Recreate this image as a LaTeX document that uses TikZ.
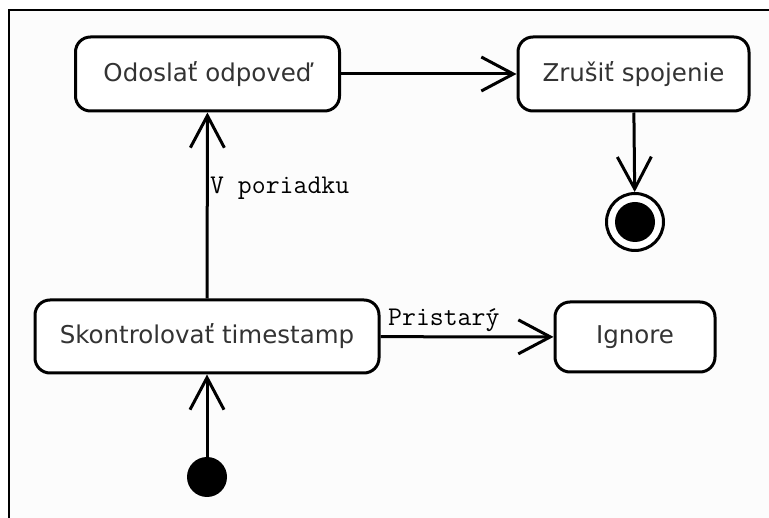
\documentclass[tikz,border=0pt]{standalone}
\usepackage{fontspec}
\setmainfont{DejaVu Sans}
\usetikzlibrary{arrows.meta}
\definecolor{paper}{HTML}{FCFCFC}
\definecolor{boxtext}{HTML}{333333}
\begin{document}
\begin{tikzpicture}[x=1pt,y=-1pt,
  action/.style={draw, line width=3pt, rounded corners=15pt, fill=white,
    inner sep=0pt, text=boxtext, font=\fontsize{24.5}{28}\selectfont},
  flow/.style={line width=3pt, -{Straight Barb[length=32pt,width=34pt,line width=3pt]}},
  guard/.style={inner sep=0pt, font=\ttfamily\fontsize{27}{30}\selectfont}]
  % canvas and frame
  \useasboundingbox (0,0) rectangle (769,518);
  \fill[white] (0,0) rectangle (769,518);
  \fill[paper] (9,10) rectangle (769,518);
  \draw[line width=2.5pt] (9,518) -- (9,10) -- (769,10);

  % actions
  \node[action, minimum width=264pt, minimum height=74pt] (send) at (207.5,74) {Odoslať odpoveď};
  \node[action, minimum width=231pt, minimum height=74pt] (close) at (633.5,74) {Zrušiť spojenie};
  \node[action, minimum width=344pt, minimum height=73pt] (check) at (207,336.5) {Skontrolovať timestamp};
  \node[action, minimum width=160pt, minimum height=70pt] (ignore) at (635,337) {Ignore};

  % initial and final states
  \node[circle, fill=black, minimum size=40pt, inner sep=0pt] (init) at (207,477) {};
  \node[circle, draw, line width=3pt, fill=white, minimum size=57pt, inner sep=0pt] (final) at (635,222) {};
  \node[circle, fill=black, minimum size=40pt, inner sep=0pt] (finaldot) at (final) {};

  % transitions
  \draw[flow] (init) -- (check);
  \draw[flow] (check) -- (send);
  \draw[flow] (send) -- (close);
  \draw[flow] (close) -- (final);
  \draw[flow] (check) -- (ignore);

  % guards
  \node[guard, anchor=west] (okguard) at (210,188) {V poriadku};
  \node[guard, anchor=base west] (oldguard) at (388,326) {Pristarý};
\end{tikzpicture}
\end{document}
